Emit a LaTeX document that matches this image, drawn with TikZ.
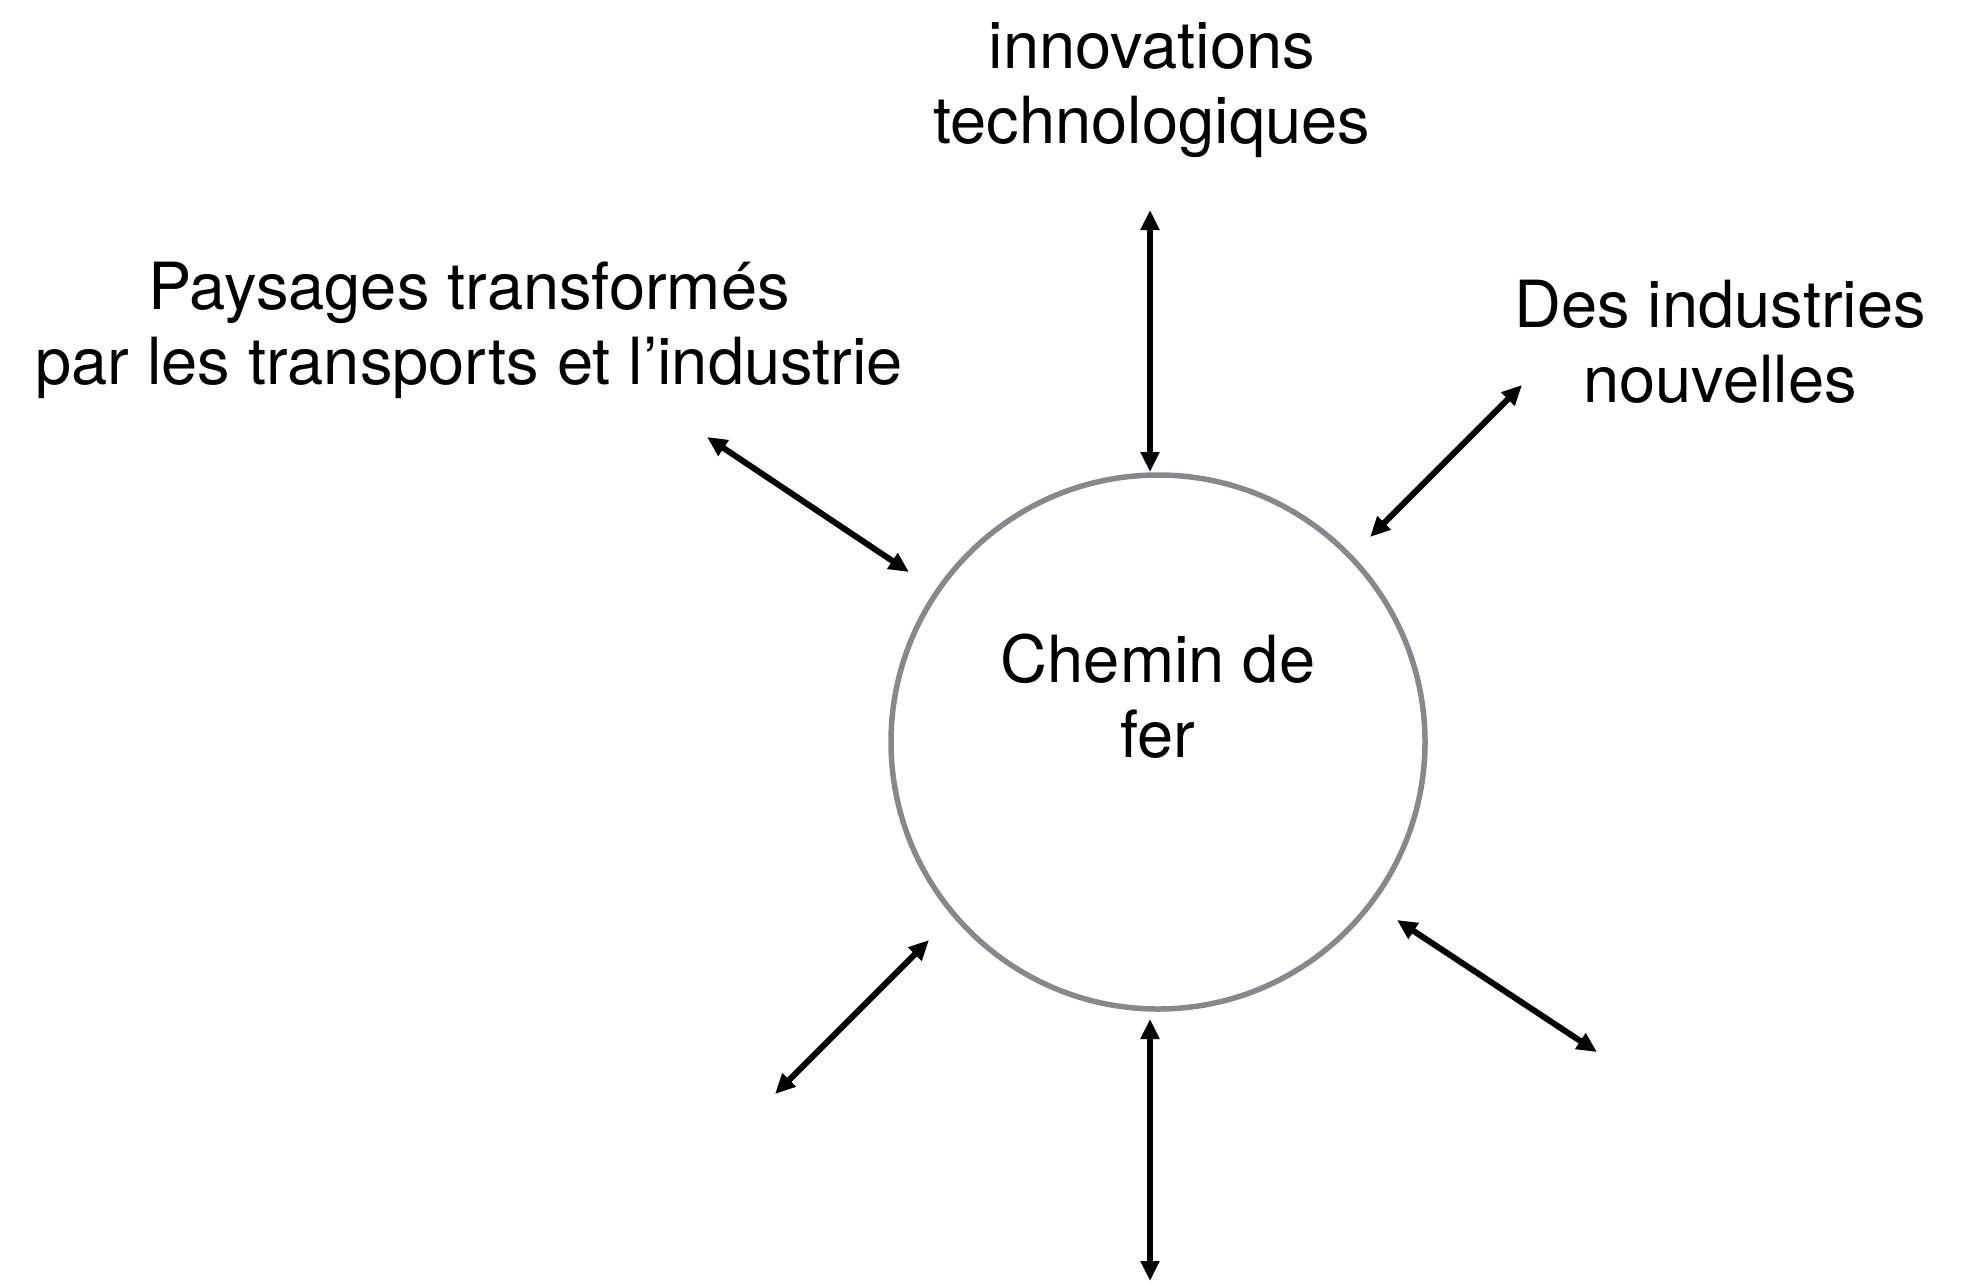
\documentclass[tikz,border=0pt]{standalone}
\usepackage{fontspec}
\setmainfont{TeX Gyre Heros}
\usetikzlibrary{arrows.meta}
\definecolor{ringgray}{RGB}{134,136,140}

\begin{document}
\begin{tikzpicture}[x=1pt,y=-1pt]
	\tikzstyle{every node}+=[inner sep=0pt]
	\tikzstyle{lbl}=[align=center,font=\fontsize{65}{75}\selectfont]
	\tikzstyle{hub}=[circle,draw=ringgray,line width=5.5pt,minimum size=534pt]
	\tikzstyle{link}=[line width=6pt,{Triangle[length=20pt,width=18pt]}-{Triangle[length=20pt,width=18pt]}]
	\useasboundingbox (0,0) rectangle (1961,1283);
	\node [hub] (rail) at (1158,742) {};
	\node [lbl] (railtext) at (1158,696) {Chemin de\\fer};
	\node [lbl] (innov) at (1152,90) {innovations\\technologiques};
	\node [lbl] (paysages) at (469,330) {Paysages transformés\\par les transports et l’industrie};
	\node [lbl] (indus) at (1720,342) {Des industries\\nouvelles};
	\coordinate (n1) at (1150,210);
	\coordinate (n2) at (1150,472);
	\coordinate (nw1) at (707,437);
	\coordinate (nw2) at (909,572);
	\coordinate (ne1) at (1522,385);
	\coordinate (ne2) at (1370,537);
	\coordinate (sw1) at (929,940);
	\coordinate (sw2) at (775,1094);
	\coordinate (s1) at (1150,1019);
	\coordinate (s2) at (1150,1281);
	\coordinate (se1) at (1397,920);
	\coordinate (se2) at (1597,1052);
	\draw [link] (n1) -- (n2);
	\draw [link] (nw1) -- (nw2);
	\draw [link] (ne1) -- (ne2);
	\draw [link] (sw1) -- (sw2);
	\draw [link] (s1) -- (s2);
	\draw [link] (se1) -- (se2);
\end{tikzpicture}
\end{document}
